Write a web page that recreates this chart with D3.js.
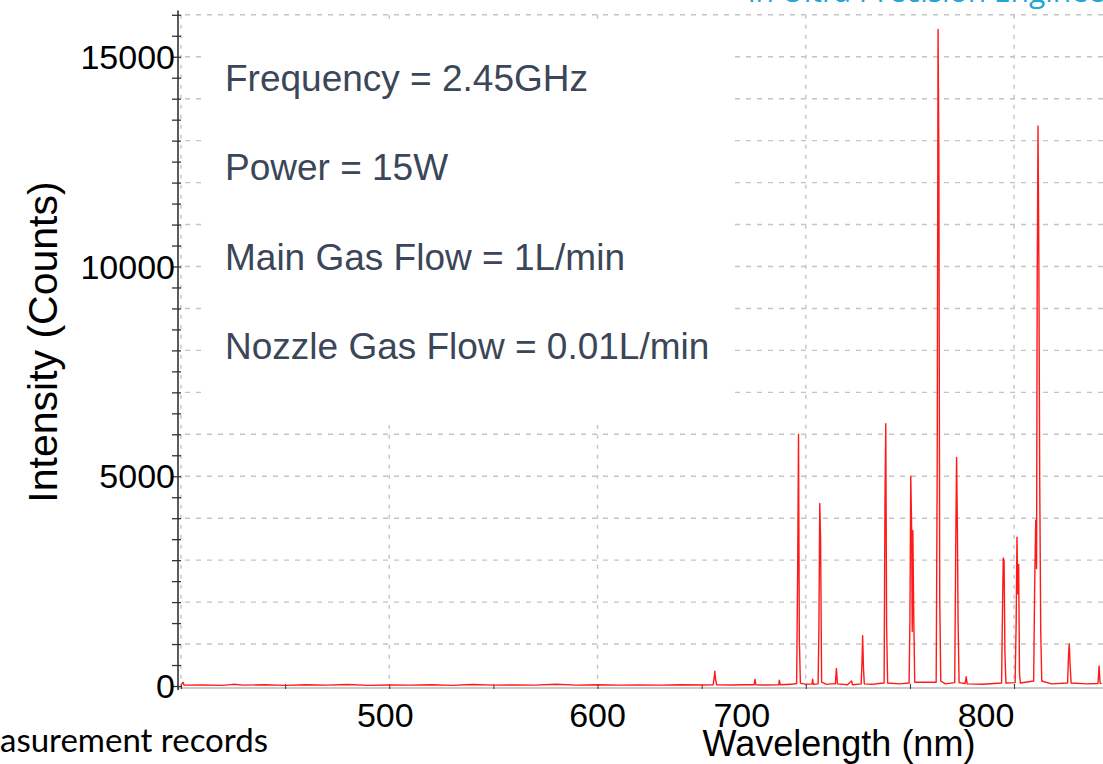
<!DOCTYPE html>
<html>
<head>
<meta charset="utf-8">
<script src="https://cdn.jsdelivr.net/npm/d3@7"></script>
<style>
  body { margin: 0; background: #fff; }
  svg { display: block; }
</style>
</head>
<body>
<svg width="1103" height="764"></svg>
<script>
// spectrum: wavelength (nm) and intensity (counts)
const wavelengths = [
  400, 401, 401.5, 410, 420, 425, 430, 440, 450, 460, 470, 480, 490, 500, 510, 520, 530, 540, 550, 560,
  570, 580, 590, 600, 610, 620, 630, 640, 650,
  655.5, 656.0, 656.3, 656.7, 657.2, 665, 670, 675.2, 675.6, 676.0, 680, 687, 687.3, 687.7, 693,
  695.6, 696.1, 696.5, 696.9, 697.4, 700, 703.0, 703.3, 703.6,
  705.9, 706.3, 706.7, 707.1, 707.6, 710, 712,
  714.2, 714.7, 715.2, 720, 722, 722.4,
  726.6, 727.0, 727.3, 727.7, 728.1, 732, 735,
  737.6, 738.0, 738.4, 738.8, 739.3, 745,
  749.6, 750.0, 750.4, 750.8, 751.1, 751.4, 751.8, 752.3,
  762.6, 763.1, 763.5, 763.9, 764.3, 764.8, 767,
  771.5, 772.0, 772.4, 772.8, 773.1, 773.6,
  776.5, 777.0, 777.5, 785,
  794.0, 794.5, 794.8, 795.2, 795.6, 796.1,
  800.5, 801.0, 801.4, 801.8, 802.2, 802.6, 803.0,
  809.4, 809.9, 810.4, 810.8, 811.1, 811.5, 811.9, 812.3, 812.8, 813.3,
  818, 825.7, 826.2, 826.5, 826.9, 827.4, 835,
  840.3, 840.8, 841.3, 842
];
const counts = [
  20, 90, 20, 25, 15, 40, 20, 30, 15, 30, 20, 35, 15, 25, 20, 30, 15, 35, 20, 25,
  20, 40, 20, 30, 20, 25, 20, 30, 25,
  30, 200, 350, 150, 30, 25, 30, 30, 160, 30, 25, 30, 140, 30, 40,
  60, 2800, 6000, 1100, 70, 40, 50, 160, 40,
  50, 1400, 4350, 3500, 90, 40, 50,
  50, 420, 50, 30, 120, 30,
  50, 600, 1200, 420, 50, 40, 60,
  70, 4300, 6250, 1400, 70, 50,
  70, 1600, 5000, 3800, 1300, 3700, 1800, 90,
  90, 5300, 15650, 12600, 2100, 120, 50,
  80, 3400, 5450, 3700, 1600, 80,
  60, 220, 50, 40,
  70, 2000, 3050, 3000, 800, 70,
  80, 1500, 3550, 2200, 2900, 300, 70,
  120, 2400, 3950, 2800, 9500, 13350, 10200, 5000, 1300, 120,
  50, 70, 800, 1000, 500, 70, 50,
  60, 480, 70, 50
];

const yLabelTicks = [0, 5000, 10000, 15000];
const xLabelTicks = [500, 600, 700, 800];
const notes = [
  'Frequency = 2.45GHz',
  'Power = 15W',
  'Main Gas Flow = 1L/min',
  'Nozzle Gas Flow = 0.01L/min'
];

const spectrum = wavelengths.map((w, i) => ({ w: w, c: counts[i] }));

const svg = d3.select('svg');

const x = d3.scaleLinear().domain([400, 842.7]).range([181, 1103]);
const y = d3.scaleLinear().domain([0, 16100]).range([686, 10.6]);

// grid
const grid = svg.append('g')
  .style('stroke', '#c4c4c4')
  .style('stroke-width', '1.4px');

grid.selectAll('line.hgrid')
  .data(d3.range(1000, 16001, 1000))
  .enter()
  .append('line')
  .attr('class', 'hgrid')
  .attr('x1', x(400) + 4)
  .attr('x2', 1103)
  .attr('y1', d => y(d))
  .attr('y2', d => y(d))
  .style('stroke-dasharray', '5,6');

grid.selectAll('line.vgrid')
  .data([400, 500, 600, 700, 800])
  .enter()
  .append('line')
  .attr('class', 'vgrid')
  .attr('x1', d => x(d))
  .attr('x2', d => x(d))
  .attr('y1', y(16000))
  .attr('y2', y(0))
  .style('stroke-dasharray', '4,6');

// white box behind the notes
svg.append('rect')
  .attr('x', 203)
  .attr('y', 22)
  .attr('width', 530)
  .attr('height', 403)
  .style('fill', '#fff');

svg.selectAll('text.note')
  .data(notes)
  .enter()
  .append('text')
  .attr('class', 'note')
  .attr('x', 225)
  .attr('y', (d, i) => 91 + i * 89.3)
  .text(d => d)
  .style('font-family', 'Liberation Sans, Arial, sans-serif')
  .style('font-size', '37px')
  .style('fill', '#3b4658');

// x axis line
svg.append('line')
  .attr('x1', x(400) - 3)
  .attr('x2', 1103)
  .attr('y1', y(0) + 2)
  .attr('y2', y(0) + 2)
  .style('stroke', '#b8b8b8')
  .style('stroke-width', '1.5px');

const xTicks = svg.append('g')
  .attr('transform', `translate(0,${y(0) - 2})`)
  .call(d3.axisBottom(x).tickValues(d3.range(400, 801, 50)).tickSize(5).tickFormat(''));
xTicks.select('.domain').remove();
xTicks.selectAll('line').style('stroke', '#333');

// y axis: line with crossing ticks every 500
const yAxis = svg.append('g')
  .attr('transform', `translate(${x(400) - 3},0)`)
  .call(d3.axisLeft(y).tickValues(d3.range(0, 16001, 500)).tickSize(6).tickSizeOuter(0).tickFormat(''));
yAxis.select('.domain').style('stroke', '#333').style('stroke-width', '1.6px')
  .attr('d', `M0,${y(16100)}V${y(0) + 4}`);
yAxis.selectAll('.tick line').attr('x1', 3).style('stroke', '#333').style('stroke-width', '1.3px');

// spectrum
const line = d3.line().x(d => x(d.w)).y(d => y(d.c));
svg.append('path')
  .datum(spectrum)
  .attr('d', line)
  .style('fill', 'none')
  .style('stroke', '#ff1a1a')
  .style('stroke-width', '1.4px')
  .style('stroke-linejoin', 'round');

// tick labels
svg.selectAll('text.ylab')
  .data(yLabelTicks)
  .enter()
  .append('text')
  .attr('class', 'ylab')
  .attr('x', 175)
  .attr('y', d => y(d))
  .attr('dy', '0.36em')
  .attr('text-anchor', 'end')
  .text(d => d)
  .style('font-family', 'Liberation Sans, Arial, sans-serif')
  .style('font-size', '34px')
  .style('fill', '#000');

// labels on the slide sit a little left of their grid lines
const xLabelShift = { 500: -4, 600: 0, 700: -64, 800: -28 };
svg.selectAll('text.xlab')
  .data(xLabelTicks)
  .enter()
  .append('text')
  .attr('class', 'xlab')
  .attr('x', d => x(d) + xLabelShift[d])
  .attr('y', 727)
  .attr('text-anchor', 'middle')
  .text(d => d)
  .style('font-family', 'Liberation Sans, Arial, sans-serif')
  .style('font-size', '34px')
  .style('fill', '#000');

svg.append('text')
  .attr('x', 839)
  .attr('y', 756)
  .attr('text-anchor', 'middle')
  .text('Wavelength (nm)')
  .style('font-family', 'Liberation Sans, Arial, sans-serif')
  .style('font-size', '36px')
  .style('fill', '#000');

svg.append('text')
  .attr('transform', 'translate(57,342) rotate(-90)')
  .attr('text-anchor', 'middle')
  .text('Intensity (Counts)')
  .style('font-family', 'Liberation Sans, Arial, sans-serif')
  .style('font-size', '41px')
  .style('fill', '#000');

// slide fragments cut off by the crop
svg.append('text')
  .attr('x', 0)
  .attr('y', 752)
  .text('asurement records')
  .style('font-family', 'Lato, sans-serif')
  .style('font-size', '33px')
  .style('fill', '#000');

svg.append('text')
  .attr('x', 748)
  .attr('y', 2)
  .text('in Ultra Precision Engineering')
  .style('font-family', 'Open Sans, sans-serif')
  .style('font-size', '30px')
  .style('fill', '#22a5d8');
</script>
</body>
</html>
